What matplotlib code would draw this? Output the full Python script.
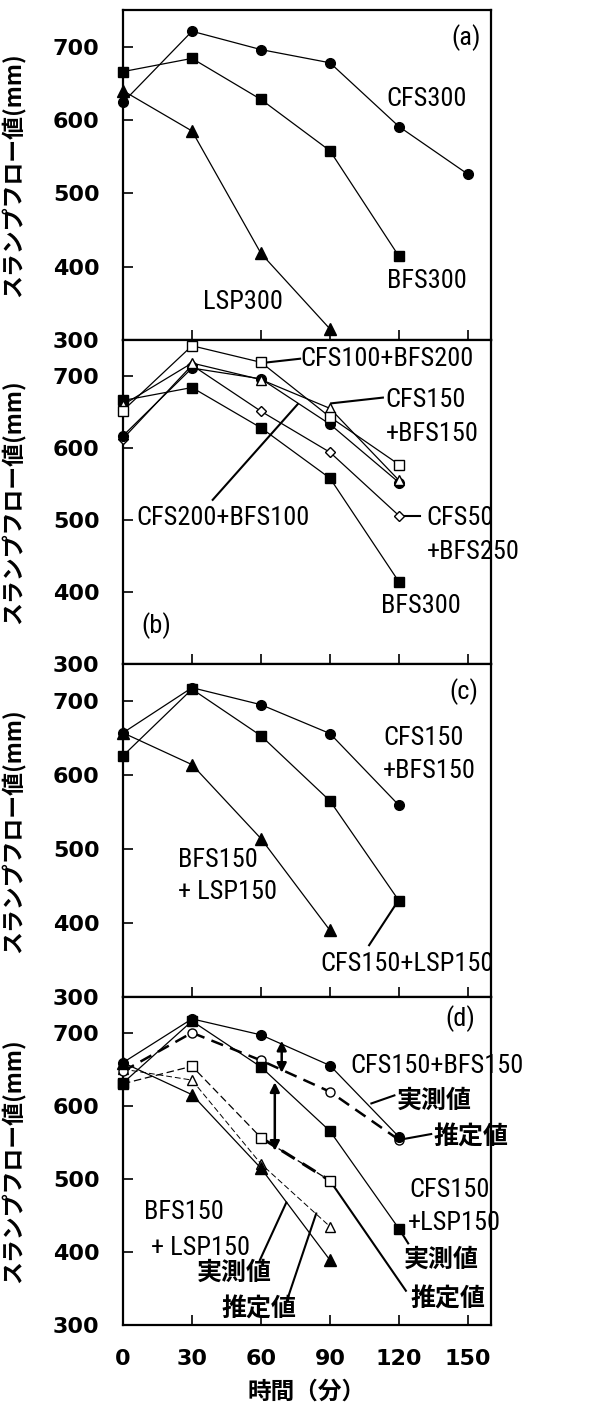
import matplotlib
matplotlib.use('Agg')
import matplotlib.pyplot as plt
from matplotlib import font_manager

plt.rcParams['font.family'] = ['DejaVu Sans', 'Noto Sans CJK JP']

time = [0, 30, 60, 90, 120, 150]

# (a)
a_cfs300 = [624, 721, 696, 678, 591, 526]
a_bfs300 = [666, 684, 628, 558, 414]
a_lsp300 = [640, 585, 418, 315]

# (b)
b_cfs100_bfs200 = [652, 742, 719, 643, 577]
b_cfs150_bfs150 = [660, 718, 695, 655, 555]
b_cfs200_bfs100 = [617, 711, 696, 633, 552]
b_cfs50_bfs250 = [613, 715, 651, 594, 506]
b_bfs300 = [666, 684, 628, 558, 414]

# (c)
c_cfs150_bfs150 = [657, 718, 695, 656, 559]
c_cfs150_lsp150 = [626, 716, 653, 565, 430]
c_bfs150_lsp150 = [657, 614, 514, 390]

# (d) 実測値 / 推定値
d_cb_meas = [660, 720, 698, 656, 558]
d_cb_est = [648, 701, 663, 620, 554]
d_cl_meas = [632, 717, 654, 566, 432]
d_cl_est = [631, 655, 557, 498]
d_bl_meas = [660, 616, 515, 389]
d_bl_est = [651, 636, 521, 435]

yticks = [300, 400, 500, 600, 700]
xticks = [0, 30, 60, 90, 120, 150]

names = {f.name for f in font_manager.fontManager.ttflist}
if 'Liberation Sans Narrow' in names:
    LAB = dict(family=['Liberation Sans Narrow', 'DejaVu Sans'], fontsize=18.5)
elif 'Roboto Condensed' in names:
    LAB = dict(family=['Roboto Condensed', 'DejaVu Sans'], fontsize=19)
else:
    LAB = dict(family=['Roboto', 'DejaVu Sans'], fontsize=17.5)
JP = dict(family=['Noto Sans CJK JP', 'DejaVu Sans'], fontsize=18, fontweight='bold')

W, H = 602, 1407
fig = plt.figure(figsize=(W / 100, H / 100), dpi=100)

edges = [(10, 340), (340, 664), (664, 997), (997, 1325)]
left, right = 123, 491
axes = []
for top, bot in edges:
    ax = fig.add_axes([left / W, 1 - bot / H, (right - left) / W, (bot - top) / H])
    ax.set_xlim(0, 160)
    ax.set_ylim(300, 750)
    ax.set_yticks(yticks)
    ax.set_xticks(xticks)
    ax.tick_params(direction='in', length=7, width=1.2, pad=17,
                   labelsize=16)
    for lbl in ax.get_yticklabels():
        lbl.set_fontweight('bold')
    for s in ax.spines.values():
        s.set_linewidth(1.6)
    ax.set_ylabel('スランプフロー値(mm)', family=['Noto Sans CJK JP', 'DejaVu Sans'],
                  fontsize=16.5, fontweight='bold')
    ax.yaxis.set_label_coords(-0.265, 0.5)
    axes.append(ax)

for ax in axes[:3]:
    ax.tick_params(labelbottom=False)
axd = axes[3]
for lbl in axd.get_xticklabels():
    lbl.set_fontweight('bold')
axd.set_xlabel('時間（分）', family=['Noto Sans CJK JP', 'DejaVu Sans'],
               fontsize=17, fontweight='bold', labelpad=8)

LW = 0.9
def line(ax, y, marker, filled=True, ms=7.5, ls='-', lw=LW):
    x = time[:len(y)]
    ax.plot(x, y, ls=ls, lw=lw, color='black', marker=marker, ms=ms,
            mfc='black' if filled else 'white', mec='black', mew=1.0,
            clip_on=False, zorder=3)

def lead(ax, x0, y0, x1, y1, lw=1.5):
    ax.plot([x0, x1], [y0, y1], color='black', lw=lw, clip_on=False, zorder=2)

# ---- (a)
ax = axes[0]
line(ax, a_cfs300, 'o', ms=7)
line(ax, a_bfs300, 's', ms=7)
line(ax, a_lsp300, '^', ms=8)
ax.text(149, 712, '(a)', ha='center', va='center', **LAB)
ax.text(132, 628, 'CFS300', ha='center', va='center', **LAB)
ax.text(132, 380, 'BFS300', ha='center', va='center', **LAB)
ax.text(52, 352, 'LSP300', ha='center', va='center', **LAB)

# ---- (b)
ax = axes[1]
line(ax, b_bfs300, 's', ms=7)
line(ax, b_cfs50_bfs250, 'D', filled=False, ms=5.5)
line(ax, b_cfs200_bfs100, 'o', ms=7)
line(ax, b_cfs150_bfs150, '^', filled=False, ms=7)
line(ax, b_cfs100_bfs200, 's', filled=False, ms=7)
lead(ax, 63, 719, 77, 724)
ax.text(77, 723, 'CFS100+BFS200', ha='left', va='center', **LAB)
lead(ax, 90.5, 662, 113, 670)
ax.text(114, 667, 'CFS150', ha='left', va='center', **LAB)
ax.text(114.5, 619, '+BFS150', ha='left', va='center', **LAB)
lead(ax, 39, 528, 76, 661)
ax.text(6, 503, 'CFS200+BFS100', ha='left', va='center', **LAB)
lead(ax, 121, 506, 129, 506)
ax.text(132, 503, 'CFS50', ha='left', va='center', **LAB)
ax.text(132, 455, '+BFS250', ha='left', va='center', **LAB)
ax.text(112, 380, 'BFS300', ha='left', va='center', **LAB)
ax.text(8, 353, '(b)', ha='left', va='center', **LAB)

# ---- (c)
ax = axes[2]
line(ax, c_bfs150_lsp150, '^', ms=8)
line(ax, c_cfs150_lsp150, 's', ms=7)
line(ax, c_cfs150_bfs150, 'o', ms=7)
ax.text(148, 713, '(c)', ha='center', va='center', **LAB)
ax.text(113, 650, 'CFS150', ha='left', va='center', **LAB)
ax.text(113, 605, '+BFS150', ha='left', va='center', **LAB)
ax.text(24, 485, 'BFS150', ha='left', va='center', **LAB)
ax.text(24, 442, '+ LSP150', ha='left', va='center', **LAB)
lead(ax, 119, 427, 107, 370)
ax.text(86, 345, 'CFS150+LSP150', ha='left', va='center', **LAB)

# ---- (d)
ax = axes[3]
line(ax, d_bl_est, '^', filled=False, ms=7, ls=(0, (6, 3)), lw=0.7)
line(ax, d_cl_est, 's', filled=False, ms=6.5, ls=(0, (6, 3)), lw=0.9)
ax.plot(time[2:4], d_cl_est[2:4], color='black', lw=2.2, ls=(0, (5, 3)), zorder=2)
line(ax, d_cb_est, 'o', filled=False, ms=6.5, ls=(0, (5, 3)), lw=1.8)
line(ax, d_bl_meas, '^', ms=8)
line(ax, d_cl_meas, 's', ms=7)
line(ax, d_cb_meas, 'o', ms=7)

ax.annotate('', xy=(69, 646), xytext=(69, 690),
            arrowprops=dict(arrowstyle='<|-|>', color='black', lw=1.8,
                            mutation_scale=14, shrinkA=0, shrinkB=0))
ax.annotate('', xy=(66, 539), xytext=(66, 633),
            arrowprops=dict(arrowstyle='<|-|>', color='black', lw=1.8,
                            mutation_scale=14, shrinkA=0, shrinkB=0))

ax.text(146.5, 721, '(d)', ha='center', va='center', **LAB)
ax.text(99, 656, 'CFS150+BFS150', ha='left', va='center', **LAB)
lead(ax, 108, 604, 118, 615)
ax.text(119, 608, '実測値', ha='left', va='center', **JP)
lead(ax, 120, 554, 134, 562)
ax.text(135, 557, '推定値', ha='left', va='center', **JP)
ax.text(142, 485, 'CFS150', ha='center', va='center', **LAB)
ax.text(144, 440, '+LSP150', ha='center', va='center', **LAB)
lead(ax, 120, 432, 124, 412)
ax.text(122, 389, '実測値', ha='left', va='center', **JP)
lead(ax, 90, 498, 123, 347)
ax.text(125, 335, '推定値', ha='left', va='center', **JP)
ax.text(9, 455, 'BFS150', ha='left', va='center', **LAB)
ax.text(12, 406, '+ LSP150', ha='left', va='center', **LAB)
lead(ax, 59.5, 389, 71, 468)
ax.text(32, 372, '実測値', ha='left', va='center', **JP)
lead(ax, 71, 331, 84, 453)
ax.text(43, 321, '推定値', ha='left', va='center', **JP)

fig.savefig('out.png', dpi=100)
